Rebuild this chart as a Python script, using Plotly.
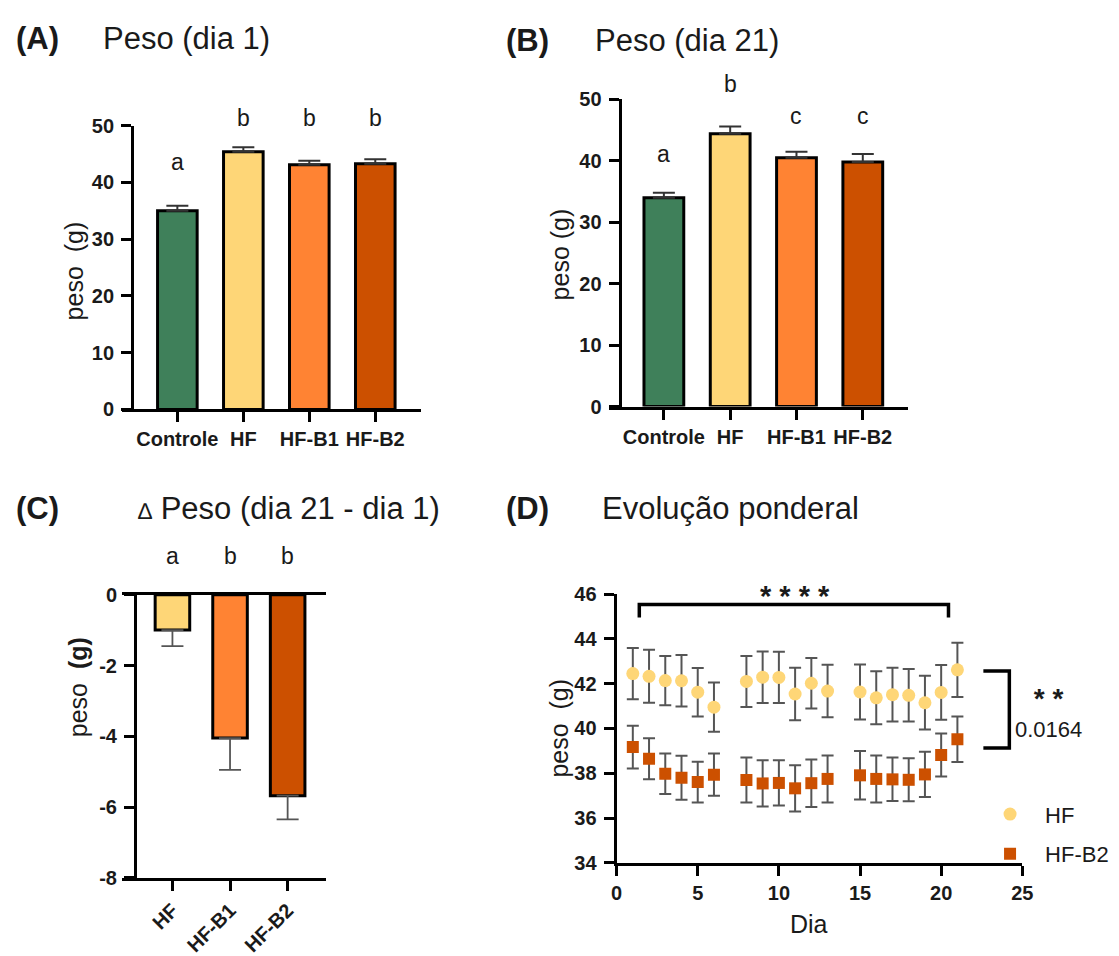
import plotly.graph_objects as go

# ---------------- data ----------------
groups_ab = ["Controle", "HF", "HF-B1", "HF-B2"]
peso_dia1 = [35.0, 45.4, 43.1, 43.3]
peso_dia1_sem = [0.9, 0.8, 0.7, 0.8]
letters_dia1 = ["a", "b", "b", "b"]

peso_dia21 = [34.0, 44.4, 40.5, 39.8]
peso_dia21_sem = [0.8, 1.2, 1.0, 1.3]
letters_dia21 = ["a", "b", "c", "c"]

groups_c = ["HF", "HF-B1", "HF-B2"]
delta_peso = [-1.0, -4.05, -5.68]
delta_peso_sem = [0.45, 0.9, 0.67]
letters_delta = ["a", "b", "b"]
delta_ticks = [-8, -6, -4, -2, 0]
delta_ticktext = ["-8", "-6", "-4", "-2", "0"]

dias = [1, 2, 3, 4, 5, 6, 8, 9, 10, 11, 12, 13, 15, 16, 17, 18, 19, 20, 21]
hf_mean = [42.45, 42.33, 42.14, 42.13, 41.62, 40.95, 42.10, 42.29, 42.28, 41.54,
           42.02, 41.67, 41.63, 41.37, 41.51, 41.48, 41.15, 41.61, 42.62]
hf_sem = [1.14, 1.18, 1.10, 1.15, 1.08, 1.10, 1.14, 1.15, 1.14, 1.17,
          1.13, 1.17, 1.23, 1.18, 1.20, 1.17, 1.20, 1.22, 1.21]
hfb2_mean = [39.17, 38.65, 37.98, 37.80, 37.61, 37.94, 37.70, 37.55, 37.57, 37.33,
             37.56, 37.75, 37.91, 37.75, 37.73, 37.71, 37.95, 38.82, 39.52]
hfb2_sem = [0.95, 0.92, 0.90, 0.98, 0.91, 0.94, 1.00, 1.03, 1.01, 1.03,
            1.06, 1.05, 1.08, 1.05, 0.97, 0.96, 1.01, 0.96, 1.02]

colors = {"Controle": "#3F805A", "HF": "#FED677", "HF-B1": "#FF8333", "HF-B2": "#CC5000"}

# ---------------- helpers ----------------
W, H = 1119, 956
FONT = "Liberation Sans, Arial, Helvetica, sans-serif"
TXT = "#1a1a1a"


def fx(px):
    return px / W


def fy(py):
    return 1 - py / H


axis_common = dict(showgrid=False, zeroline=False, showline=True, linecolor="black",
                   linewidth=3, ticks="outside", ticklen=10, tickwidth=3, tickcolor="black",
                   tickfont=dict(family=FONT, size=20, color=TXT, weight="bold"))

fig = go.Figure()

# Panel A
fig.add_trace(go.Bar(x=groups_ab, y=peso_dia1, width=0.6,
                     marker=dict(color=[colors[g] for g in groups_ab], line=dict(color="black", width=3)),
                     error_y=dict(type="data", symmetric=False, array=peso_dia1_sem,
                                  arrayminus=[0] * len(groups_ab), color="#333", thickness=2, width=11),
                     xaxis="x", yaxis="y", showlegend=False))
# Panel B
fig.add_trace(go.Bar(x=groups_ab, y=peso_dia21, width=0.6,
                     marker=dict(color=[colors[g] for g in groups_ab], line=dict(color="black", width=3)),
                     error_y=dict(type="data", symmetric=False, array=peso_dia21_sem,
                                  arrayminus=[0] * len(groups_ab), color="#333", thickness=2, width=11),
                     xaxis="x2", yaxis="y2", showlegend=False))
# Panel C
fig.add_trace(go.Bar(x=groups_c, y=delta_peso, width=0.6,
                     marker=dict(color=[colors[g] for g in groups_c], line=dict(color="black", width=3)),
                     error_y=dict(type="data", symmetric=False, array=[0] * len(groups_c),
                                  arrayminus=delta_peso_sem, color="#555", thickness=1.8, width=11),
                     xaxis="x3", yaxis="y3", showlegend=False))
# Panel D
fig.add_trace(go.Scatter(x=dias, y=hf_mean, mode="markers", name="HF", legendgroup="hf",
                         marker=dict(symbol="circle", size=13, color=colors["HF"]),
                         error_y=dict(type="data", array=hf_sem, color="#555", thickness=2, width=6),
                         xaxis="x4", yaxis="y4"))
fig.add_trace(go.Scatter(x=dias, y=hfb2_mean, mode="markers", name="HF-B2", legendgroup="hfb2",
                         marker=dict(symbol="square", size=12, color=colors["HF-B2"]),
                         error_y=dict(type="data", array=hfb2_sem, color="#555", thickness=2, width=6),
                         xaxis="x4", yaxis="y4"))

layout = dict(
    width=W, height=H, margin=dict(l=0, r=0, t=0, b=0),
    paper_bgcolor="white", plot_bgcolor="white",
    font=dict(family=FONT, color=TXT),
    xaxis=dict(axis_common, domain=[fx(118), fx(421)], anchor="y", range=[-0.836, 3.687], type="category"),
    yaxis=dict(axis_common, domain=[fy(410), fy(118)], anchor="free", position=fx(128),
               range=[0, 50], tickvals=[0, 10, 20, 30, 40, 50], ticklabelstandoff=3),
    xaxis2=dict(axis_common, domain=[fx(612), fx(916)], anchor="y2", range=[-0.832, 3.683], type="category"),
    yaxis2=dict(axis_common, domain=[fy(407), fy(91)], anchor="free", position=fx(623),
                range=[0, 50], tickvals=[0, 10, 20, 30, 40, 50], ticklabelstandoff=3),
    xaxis3=dict(axis_common, domain=[fx(118), fx(325)], anchor="y3", range=[-0.872, 2.667],
                type="category", tickangle=-45, mirror=True),
    yaxis3=dict(axis_common, domain=[fy(892), fy(600.7)], anchor="free", position=fx(131),
                range=[-8, 0], tickvals=delta_ticks, ticktext=delta_ticktext, ticklabelstandoff=3),
    xaxis4=dict(axis_common, domain=[fx(620), fx(1032)], anchor="y4", range=[0, 25],
                tickvals=[0, 5, 10, 15, 20, 25]),
    yaxis4=dict(axis_common, domain=[fy(876.7), fy(600)], anchor="x4", range=[34, 46],
                tickvals=[34, 36, 38, 40, 42, 44, 46], ticklabelstandoff=3),
    legend=dict(x=fx(984), y=fy(805), xanchor="left", yanchor="top", bgcolor="rgba(0,0,0,0)",
                font=dict(family=FONT, size=22, color=TXT), tracegroupgap=8, itemwidth=60),
)
fig.update_layout(**layout)

ann = []


def paper_text(text, x, y, size, bold=False, xanchor="left", angle=0):
    ann.append(dict(text=("<b>%s</b>" % text) if bold else text, x=fx(x), y=fy(y),
                    xref="paper", yref="paper", xanchor=xanchor, yanchor="middle",
                    showarrow=False, textangle=angle,
                    font=dict(family=FONT, size=size, color=TXT)))


# panel titles
paper_text("(A)", 8, 28, 31, bold=True)
paper_text("Peso (dia 1)", 96, 28, 31)
paper_text("(B)", 506, 30, 31, bold=True)
paper_text("Peso (dia 21)", 596, 30, 31)
paper_text("(C)", 8, 512, 31, bold=True)
paper_text("<span style='font-size:23px'>\u2206</span> Peso (dia 21 - dia 1)", 132, 512, 31)
paper_text("(D)", 506, 512, 31, bold=True)
paper_text("Evolu\u00e7\u00e3o ponderal", 603, 512, 31)

# axis titles
paper_text("peso&nbsp; (g)", 70, 267, 25, xanchor="center", angle=-90)
paper_text("peso (g)", 562, 250, 25, xanchor="center", angle=-90)
paper_text("peso&nbsp; <b>(g)</b>", 73, 696, 25, xanchor="center", angle=-90)
paper_text("peso&nbsp; (g)", 562, 738, 25, xanchor="center", angle=-90)
paper_text("Dia", 815, 940, 25, xanchor="center")

# significance letters (x on the category axis, y in page pixels)
letter_py_a = [155, 110, 110, 110]
letter_py_b = [147, 75, 108, 108]
letter_py_c = [561, 561, 561]
for xr, cats, letters, pys in (("x", groups_ab, letters_dia1, letter_py_a),
                               ("x2", groups_ab, letters_dia21, letter_py_b),
                               ("x3", groups_c, letters_delta, letter_py_c)):
    for g, l, py in zip(cats, letters, pys):
        ann.append(dict(text=l, x=g, y=fy(py), xref=xr, yref="paper", yanchor="middle",
                        showarrow=False, font=dict(family=FONT, size=23, color=TXT)))

# significance in D
ann.append(dict(text="<b>* * * *</b>", x=11, y=fy(602), xref="x4", yref="paper", yanchor="middle",
                showarrow=False, font=dict(family=FONT, size=29, color=TXT)))
ann.append(dict(text="<span style='font-size:28px'><b>* *</b></span><br>0.0164",
                x=fx(1059), y=fy(722), xref="paper", yref="paper", xanchor="center", yanchor="middle",
                showarrow=False, font=dict(family=FONT, size=22, color=TXT)))

fig.update_layout(annotations=ann)

# brackets in panel D
fig.add_shape(type="path", xref="x4", yref="y4",
              path="M 1.4 44.95 L 1.4 45.53 L 20.45 45.53 L 20.45 44.95",
              line=dict(color="black", width=3.5))
fig.add_shape(type="path", xref="x4", yref="y4",
              path="M 22.6 42.57 L 24.2 42.57 L 24.2 39.13 L 22.6 39.13",
              line=dict(color="black", width=3.5))

fig.write_html("out.html")
